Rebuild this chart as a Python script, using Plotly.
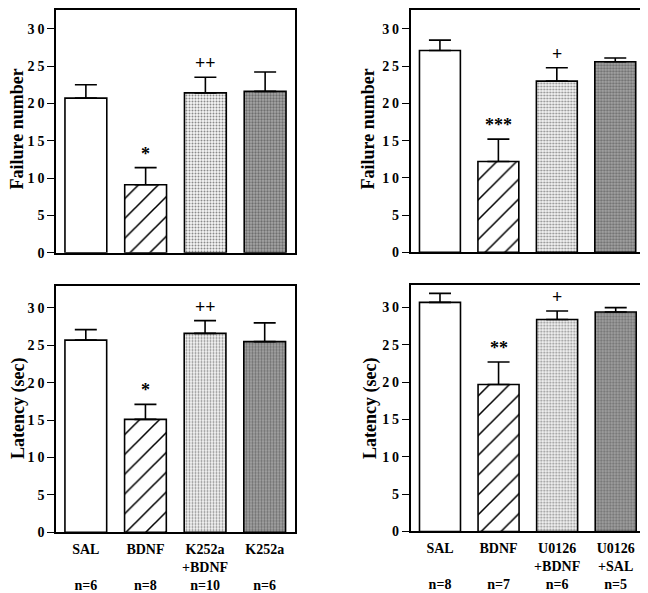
import plotly.graph_objects as go

# ---------------- data ----------------
categories_left = ["SAL", "BDNF", "K252a<br>+BDNF", "K252a"]
categories_right = ["SAL", "BDNF", "U0126<br>+BDNF", "U0126<br>+SAL"]
n_left = ["n=6", "n=8", "n=10", "n=6"]
n_right = ["n=8", "n=7", "n=6", "n=5"]

failure_left = [20.7, 9.1, 21.4, 21.6]
failure_left_err = [1.8, 2.3, 2.1, 2.6]
failure_right = [27.1, 12.2, 23.0, 25.6]
failure_right_err = [1.4, 3.0, 1.8, 0.5]

latency_left = [25.7, 15.1, 26.6, 25.5]
latency_left_err = [1.4, 2.0, 1.7, 2.5]
latency_right = [30.7, 19.7, 28.4, 29.4]
latency_right_err = [1.2, 3.0, 1.15, 0.6]

sig_failure_left = ["", "*", "++", ""]
sig_failure_right = ["", "***", "+", ""]
sig_latency_left = ["", "*", "++", ""]
sig_latency_right = ["", "**", "+", ""]

y_ticks = [0, 5, 10, 15, 20, 25, 30]

# ---------------- styling ----------------
# page body has an 8px default margin, so the figure is drawn 8px in
OFF = 8
W, H = 648 - OFF, 593 - OFF
SERIF = "Liberation Serif, Times New Roman, serif"
pat_shape = ["", "/", ".", "."]
pat_bg = ["white", "white", "#f6f6f6", "#a6a6a6"]
pat_fg = ["black", "black", "#8a8a8a", "#6e6e6e"]
pat_size = [8, 14, 3, 3]
pat_sol = [0.1, 0.11, 0.35, 0.45]


def px_x(a, b):
    return [(a - OFF) / W, (b - OFF) / W]


def px_y(top, bottom):
    return [(H - (bottom - OFF)) / H, min(1.0, (H - (top - OFF)) / H)]


def spaced(s):
    return "\u2009".join(s)


panels = [
    # vals, errs, sig, xdomain, ydomain, show x labels, cats, ns, y max
    (failure_left, failure_left_err, sig_failure_left, px_x(56, 295), px_y(8, 255), False, categories_left, n_left, 32.5),
    (failure_right, failure_right_err, sig_failure_right, px_x(410.7, 644.5), px_y(8, 254.5), False, categories_right, n_right, 32.55),
    (latency_left, latency_left_err, sig_latency_left, px_x(56, 294.5), px_y(288.3, 539.3), True, categories_left, n_left, 33),
    (latency_right, latency_right_err, sig_latency_right, px_x(410.7, 645), px_y(288, 538.5), True, categories_right, n_right, 33),
]

titles = [
    ("Failure number", 17, 129.5),
    ("Failure number", 368, 129.5),
    ("Latency (sec)", 18, 414),
    ("Latency (sec)", 370, 414),
]

fig = go.Figure()
annotations = []

for i, (vals, errs, sigs, xd, yd, show_x, cats, ns, ymax) in enumerate(panels):
    k = "" if i == 0 else str(i + 1)
    xs = list(range(len(vals)))
    for j in xs:
        fig.add_trace(go.Bar(
            x=[j], y=[vals[j]], width=0.7,
            xaxis="x" + k, yaxis="y" + k,
            marker=dict(
                color=pat_bg[j],
                line=dict(color="black", width=1.6),
                pattern=dict(shape=pat_shape[j], bgcolor=pat_bg[j], fgcolor=pat_fg[j],
                             size=pat_size[j], solidity=pat_sol[j], fillmode="replace"),
            ),
            error_y=dict(type="data", symmetric=False, array=[errs[j]],
                         arrayminus=[0], color="black",
                         thickness=1.6, width=11),
            showlegend=False, hoverinfo="skip",
        ))
    ticktext = []
    for c, n in zip(cats, ns):
        parts = c.split("<br>")
        if len(parts) == 1:
            parts.append("")
        ticktext.append("<br>".join("<b>" + p + "</b>" if p else "" for p in parts) + "<br><b>" + n + "</b>")
    fig.layout["xaxis" + k] = dict(
        domain=xd, anchor="y" + k, range=[-0.5, len(vals) - 0.5],
        showline=True, mirror=True, linecolor="black", linewidth=1.6,
        ticks="", tickvals=xs, ticktext=ticktext, showticklabels=show_x,
        ticklabelstandoff=3,
        showgrid=False, zeroline=False,
        tickfont=dict(family=SERIF, size=14, color="black"),
    )
    fig.layout["yaxis" + k] = dict(
        domain=yd, anchor="x" + k, range=[0, ymax],
        showline=True, mirror=True, linecolor="black", linewidth=1.6,
        ticks="outside", ticklen=7, tickwidth=1.4, tickcolor="black",
        tickvals=y_ticks, ticktext=["<b>" + spaced(str(t)) + "</b>" for t in y_ticks],
        showgrid=False, zeroline=False,
        tickfont=dict(family=SERIF, size=14, color="black"),
    )
    for x, v, e, s in zip(xs, vals, errs, sigs):
        if s:
            annotations.append(dict(
                x=x, y=v + e, xref="x" + k, yref="y" + k, text="<b>" + s + "</b>",
                showarrow=False, yanchor="bottom", yshift=2,
                font=dict(family=SERIF, size=18, color="black"),
            ))

for t, xp, yp in titles:
    annotations.append(dict(
        x=(xp - OFF) / W, y=(H - (yp - OFF)) / H, xref="paper", yref="paper",
        text="<b>" + t + "</b>", textangle=-90, showarrow=False,
        xanchor="center", yanchor="middle",
        font=dict(family=SERIF, size=18, color="black"),
    ))

fig.update_layout(
    width=W, height=H, margin=dict(l=0, r=0, t=0, b=0),
    paper_bgcolor="white", plot_bgcolor="white",
    annotations=annotations, barmode="overlay",
)

fig.write_html("out.html")
